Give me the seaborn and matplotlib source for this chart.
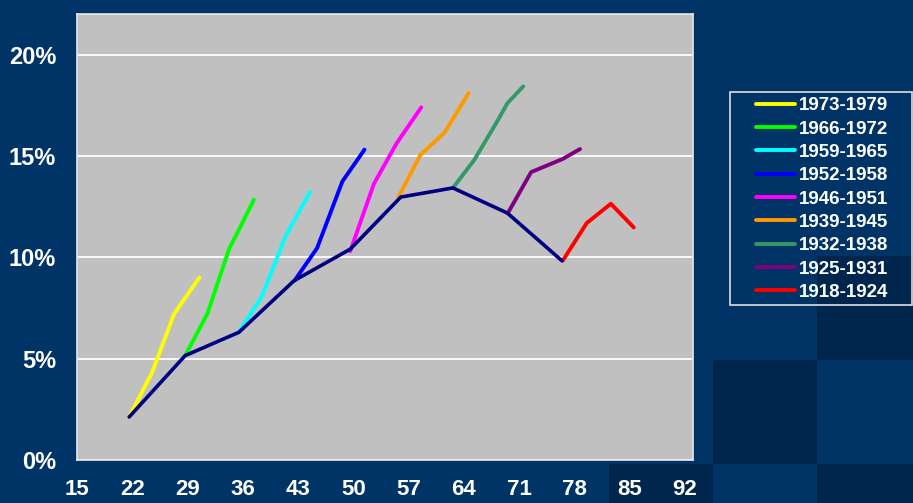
import matplotlib
matplotlib.use("Agg")
import matplotlib.pyplot as plt
import seaborn as sns
from matplotlib.patches import Rectangle
from matplotlib.ticker import FuncFormatter

# ---------------- data ----------------
cohorts = ["1973-1979", "1966-1972", "1959-1965", "1952-1958", "1946-1951",
           "1939-1945", "1932-1938", "1925-1931", "1918-1924"]

x_1973 = [21.6, 24.5, 27.3, 30.5]
y_1973 = [2.12, 4.31, 7.21, 9.0]

x_1966 = [28.7, 31.5, 34.3, 35.3, 37.4]
y_1966 = [5.15, 7.21, 10.45, 11.2, 12.84]

x_1959 = [35.45, 38.4, 41.4, 44.5]
y_1959 = [6.29, 8.06, 11.03, 13.22]

x_1952 = [42.55, 45.4, 48.6, 51.4]
y_1952 = [8.85, 10.45, 13.74, 15.31]

x_1946 = [49.6, 52.6, 55.5, 58.6]
y_1946 = [10.3, 13.63, 15.64, 17.4]

x_1939 = [55.7, 58.5, 61.5, 64.6]
y_1939 = [12.97, 15.06, 16.13, 18.1]

x_1932 = [62.6, 65.3, 68.2, 69.5, 71.5]
y_1932 = [13.42, 14.8, 16.7, 17.6, 18.43]

x_1925 = [69.56, 72.5, 76.5, 78.7]
y_1925 = [12.18, 14.2, 14.85, 15.34]

x_1918 = [76.5, 79.55, 82.6, 85.5]
y_1918 = [9.83, 11.69, 12.64, 11.47]

# line linking the starting point of each cohort
x_start = [21.6, 28.7, 35.5, 42.5, 49.6, 56.0, 62.6, 69.5, 76.4]
y_start = [2.12, 5.15, 6.3, 8.85, 10.4, 12.97, 13.42, 12.18, 9.83]

x_ticks = [15, 22, 29, 36, 43, 50, 57, 64, 71, 78, 85, 92]
y_ticks = [0, 5, 10, 15, 20]

series_x = [x_1973, x_1966, x_1959, x_1952, x_1946, x_1939, x_1932, x_1925, x_1918]
series_y = [y_1973, y_1966, y_1959, y_1952, y_1946, y_1939, y_1932, y_1925, y_1918]

# ---------------- style ----------------
colors = ["#FFFF00", "#00FF00", "#00FFFF", "#0000FF", "#FF00FF",
          "#FF9900", "#339966", "#800080", "#FF0000"]
navy_line = "#000080"
bg = "#003366"
bg_dark = "#00264D"
plot_bg = "#C0C0C0"

sns.set_style("white", {"axes.facecolor": plot_bg})
plt.rcParams["font.family"] = ["Liberation Sans", "DejaVu Sans"]
plt.rcParams["font.weight"] = "bold"

W, H = 913, 503
fig = plt.figure(figsize=(W / 100, H / 100), dpi=100, facecolor=bg)

# checkered darker squares in bottom right background
for (px, py) in [(817, 256), (713, 360), (609, 464), (817, 464)]:
    fig.patches.append(Rectangle((px / W, 1 - (py + 104) / H), 104 / W, 104 / H,
                                 transform=fig.transFigure, facecolor=bg_dark,
                                 edgecolor="none", zorder=-5))

ax = fig.add_axes([77 / W, 1 - 460 / H, (693 - 77) / W, (460 - 14) / H])
ax.set_facecolor(plot_bg)

for xs, ys, c, lab in zip(series_x, series_y, colors, cohorts):
    sns.lineplot(x=xs, y=ys, ax=ax, color=c, lw=2.8, label=lab, sort=False,
                 solid_capstyle="round")
sns.lineplot(x=x_start, y=y_start, ax=ax, color=navy_line, lw=2.6, sort=False,
             legend=False)

ax.set_xlim(15, 93)
ax.set_ylim(0, 22)
ax.set_xticks(x_ticks)
ax.set_yticks(y_ticks)
ax.yaxis.set_major_formatter(FuncFormatter(lambda v, p: f"{int(v)}%"))
ax.grid(axis="y", color="white", lw=1.3)
ax.grid(axis="x", visible=False)
ax.set_axisbelow(True)
for s in ax.spines.values():
    s.set_color("#E8E8E8")
    s.set_linewidth(1.2)
ax.tick_params(axis="both", colors="white", length=6, width=1.2, direction="out")
ax.tick_params(axis="x", pad=8, labelsize=16)
ax.tick_params(axis="y", pad=9, labelsize=17)
for t in ax.get_xticklabels() + ax.get_yticklabels():
    t.set_fontweight("bold")
    t.set_color("white")
ax.set_xlabel("")
ax.set_ylabel("")

# legend
ax.legend(loc="center left", bbox_to_anchor=(756 / W, 1 - 199 / H),
          bbox_transform=fig.transFigure, frameon=False, borderpad=0,
          borderaxespad=0, handlelength=2.1, handletextpad=0.2,
          labelspacing=0.33, prop={"size": 13.5, "weight": "bold"},
          labelcolor="white")
fig.patches.append(Rectangle((730 / W, 1 - 305 / H), 182 / W, 213 / H,
                             transform=fig.transFigure, facecolor="none",
                             edgecolor="#E0E0E0", lw=1.2, zorder=5))

fig.savefig("out.png", dpi=100, facecolor=bg)
